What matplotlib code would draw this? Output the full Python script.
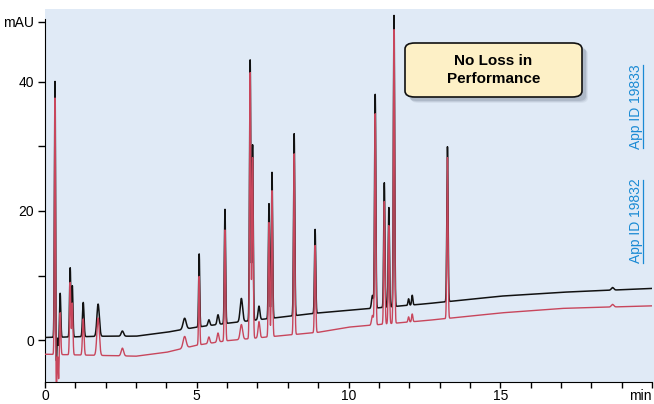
import numpy as np
import matplotlib
matplotlib.use("Agg")
import matplotlib.pyplot as plt
from matplotlib.patches import FancyBboxPatch, Rectangle

# baseline knots (min, mAU)
base_t = [0.0, 1.0, 2.0, 3.0, 4.0, 5.0, 6.0, 9.0, 10.0, 12.5, 14.0, 15.0, 17.0, 20.0]
black_base = [0.4, 0.5, 0.6, 0.6, 1.2, 2.0, 2.6, 4.2, 4.6, 5.6, 6.3, 6.8, 7.4, 8.0]
red_base = [-2.2, -2.3, -2.4, -2.5, -1.9, -0.8, -0.1, 1.2, 2.0, 3.0, 3.7, 4.2, 4.9, 5.3]

# peak tables: retention time (min), width (min), apex height above baseline
peak_t = [0.33, 0.50, 0.83, 0.90, 1.26, 1.75, 2.55, 4.60, 5.08, 5.40, 5.70, 5.93, 6.47,
          6.76, 6.84, 7.05, 7.38, 7.48, 8.21, 8.90, 10.79, 10.88, 11.18, 11.33,
          11.50, 11.98, 12.10, 13.26, 18.70]
peak_w = [0.018, 0.02, 0.02, 0.02, 0.025, 0.04, 0.04, 0.05, 0.018, 0.03, 0.03, 0.02, 0.04,
          0.02, 0.02, 0.03, 0.02, 0.02, 0.02, 0.02, 0.03, 0.02, 0.02, 0.02,
          0.02, 0.02, 0.02, 0.02, 0.04]
black_h = [39.8, 6.8, 10.7, 7.9, 5.3, 5.0, 0.8, 1.7, 11.3, 0.9, 1.5, 17.7, 3.6,
           40.4, 27.2, 2.1, 17.8, 22.6, 28.2, 13.0, 2.0, 33.1, 19.3, 15.4,
           45.1, 1.0, 1.5, 24.0, 0.4]
red_h = [40.0, 6.5, 11.2, 8.0, 5.6, 5.8, 1.2, 1.8, 10.6, 1.0, 1.4, 17.2, 2.3,
         41.2, 28.0, 2.5, 17.7, 22.6, 28.0, 13.5, 1.5, 32.7, 19.0, 15.2,
         45.5, 0.8, 1.2, 24.9, 0.4]
# negative system peak right after injection
dip_t = [0.37, 0.45]
dip_w = [0.015, 0.015]
black_dip = [-5.5, -1.5]
red_dip = [-9.0, -4.0]

x_ticks = [0, 5, 10, 15, 20]
x_labels = ["0", "5", "10", "15", "min"]
y_ticks = [0, 20, 40, 49.3]
y_labels = ["0", "20", "40", "mAU"]


def trace(t, base, heights, dips):
    y = np.interp(t, base_t, base)
    for c, w, h in zip(peak_t, peak_w, heights):
        y += h * np.exp(-0.5 * ((t - c) / w) ** 2)
    for c, w, h in zip(dip_t, dip_w, dips):
        y += h * np.exp(-0.5 * ((t - c) / w) ** 2)
    return y


t = np.linspace(0, 20, 8001)
black = trace(t, black_base, black_h, black_dip)
red = trace(t, red_base, red_h, red_dip)

W, H = 654, 404
fig = plt.figure(figsize=(W / 100, H / 100), dpi=100)
fig.patch.set_facecolor("white")
plt.rcParams['font.family'] = ['Liberation Sans', 'DejaVu Sans']

# light blue panel behind the plot
fig.patches.append(Rectangle((45 / W, 1 - 382 / H), (W - 45) / W, (382 - 9) / H,
                             transform=fig.transFigure, facecolor="#e0eaf6",
                             edgecolor="none", zorder=-1))

ax = fig.add_axes([45 / W, 1 - 382 / H, (652 - 45) / W, (382 - 9) / H])
ax.set_facecolor("none")
ax.plot(t, black, color="#111111", lw=1.1, zorder=3)
ax.plot(t, red, color="#c8465c", lw=1.0, zorder=4)

ax.set_xlim(0, 20)
ax.set_ylim(-6.5, 51.3)
for s in ["top", "right"]:
    ax.spines[s].set_visible(False)
ax.spines["left"].set_bounds(-6.5, 49.8)
ax.spines["bottom"].set_bounds(0, 20)
ax.set_xticks(x_ticks)
ax.set_xticklabels(x_labels)
ax.set_xticks(np.arange(0, 21, 1), minor=True)
ax.set_yticks(y_ticks)
ax.set_yticklabels(y_labels)
ax.set_yticks([10, 30], minor=True)
ax.tick_params(axis="both", which="both", direction="out", width=1,
               labelsize=10, colors="black")
ax.tick_params(axis="x", which="both", length=4, pad=1)
ax.tick_params(axis="y", which="both", length=5, pad=3)
ax.get_xticklabels()[-1].set_horizontalalignment("right")
ax.get_xticklabels()[-1].set_x(20.1)

# callout box with soft shadow
bx, by, bw, bh = 405, 43, 177, 54
for i, a in enumerate([0.06, 0.09, 0.12]):
    off = 6 - i
    fig.patches.append(FancyBboxPatch(((bx + off) / W, 1 - (by + bh + off) / H), bw / W, bh / H,
                                      boxstyle="round,pad=0,rounding_size=0.012",
                                      transform=fig.transFigure, facecolor="#1a2a40",
                                      alpha=a, edgecolor="none", zorder=5))
fig.patches.append(FancyBboxPatch((bx / W, 1 - (by + bh) / H), bw / W, bh / H,
                                  boxstyle="round,pad=0,rounding_size=0.015",
                                  transform=fig.transFigure, facecolor="#fdf0c6",
                                  edgecolor="#111111", lw=1.2, zorder=6))
fig.text((bx + bw / 2) / W, 1 - (by + bh / 2) / H, "No Loss in\nPerformance",
         ha="center", va="center", fontsize=11, fontweight="bold",
         family=["Liberation Sans Narrow", "Liberation Sans"], linespacing=1.3,
         zorder=7)

# app note links
for label, yc in [("App ID 19833", 107), ("App ID 19832", 221)]:
    fig.text(636 / W, 1 - yc / H, label, rotation=90, ha="center", va="center",
             fontsize=10, color="#1a8ad4", zorder=7)
fig.add_artist(plt.Line2D([642.5 / W, 642.5 / W], [1 - 65 / H, 1 - 148 / H],
                          color="#1a8ad4", lw=0.9, transform=fig.transFigure))
fig.add_artist(plt.Line2D([642.5 / W, 642.5 / W], [1 - 180 / H, 1 - 263 / H],
                          color="#1a8ad4", lw=0.9, transform=fig.transFigure))

fig.savefig("out.png", dpi=100)
